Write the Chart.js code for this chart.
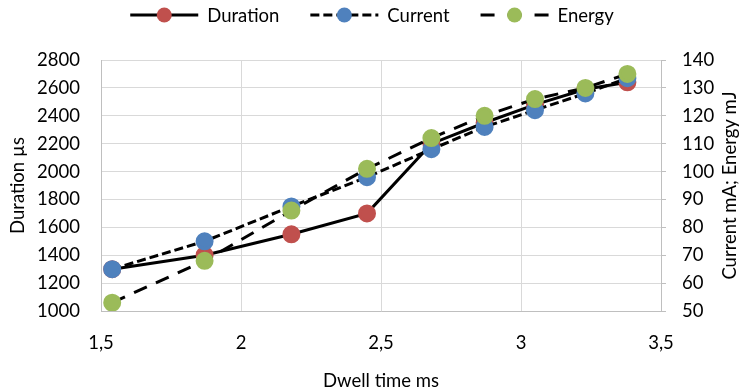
<!DOCTYPE html>
<html>
<head>
<meta charset="utf-8">
<script src="https://cdn.jsdelivr.net/npm/chart.js@4.4.0/dist/chart.umd.min.js"></script>
<style>
    html, body { margin: 0; padding: 0; background: #fff; }
    #wrap { width: 744px; height: 390px; }
</style>
</head>
<body>
<div id="wrap"><canvas id="lineChart"></canvas></div>
<script>
// values
const dwellTime = [1.54, 1.87, 2.18, 2.45, 2.68, 2.87, 3.05, 3.23, 3.38];
const duration = [1300, 1400, 1550, 1700, 2200, 2350, 2480, 2590, 2640];
const current = [65, 75, 87.5, 98, 108, 116, 122, 128, 133.5];
const energy = [53, 68, 86, 101, 112, 120, 126, 130, 135];

const xTicks = [1.5, 2, 2.5, 3, 3.5];
const xTickLabels = ['1,5', '2', '2,5', '3', '3,5'];
const leftTicks = [1000, 1200, 1400, 1600, 1800, 2000, 2200, 2400, 2600, 2800];
const rightTicks = [50, 60, 70, 80, 90, 100, 110, 120, 130, 140];

const FONT = 'Lato';
const FONT_SIZE = 18.5;
const GRID = '#d9d9d9';
const AXIS = '#bfbfbf';
const POINT_RADIUS = 7.5;

// legend dash patterns (drawn a bit differently from the plot lines)
const legendDash = [[], [9, 4], [14, 13]];

function points(ys) {
    return dwellTime.map((x, i) => ({ x: x, y: ys[i] }));
}

function setTicks(values) {
    return function (scale) {
        scale.ticks = values.map(v => ({ value: v }));
    };
}

// legend with line + marker samples, and the right axis title (reads bottom to top)
const extras = {
    id: 'extras',
    afterDraw(chart) {
        const ctx = chart.ctx;
        const sets = chart.data.datasets;
        const lineLen = 68, gapText = 9, gapItem = 31, y = 15;
        ctx.save();
        ctx.font = FONT_SIZE + 'px ' + FONT;
        const widths = sets.map(ds => lineLen + gapText + ctx.measureText(ds.label).width);
        const total = widths.reduce((a, b) => a + b, 0) + gapItem * (sets.length - 1);
        let x = (chart.width - total) / 2;
        sets.forEach((ds, i) => {
            ctx.strokeStyle = ds.borderColor;
            ctx.lineWidth = ds.borderWidth;
            ctx.setLineDash(legendDash[i]);
            ctx.beginPath();
            ctx.moveTo(x, y);
            ctx.lineTo(x + lineLen, y);
            ctx.stroke();
            ctx.setLineDash([]);
            ctx.fillStyle = ds.pointBackgroundColor;
            ctx.beginPath();
            ctx.arc(x + lineLen / 2, y, POINT_RADIUS, 0, Math.PI * 2);
            ctx.fill();
            ctx.fillStyle = '#000';
            ctx.textAlign = 'left';
            ctx.textBaseline = 'middle';
            ctx.fillText(ds.label, x + lineLen + gapText, y + 1);
            x += widths[i] + gapItem;
        });

        const area = chart.chartArea;
        ctx.translate(730, (area.top + area.bottom) / 2);
        ctx.rotate(-Math.PI / 2);
        ctx.textAlign = 'center';
        ctx.textBaseline = 'middle';
        ctx.fillText('Current mA; Energy mJ', 0, 0);
        ctx.restore();
    }
};

Chart.defaults.font.family = FONT;
Chart.defaults.font.size = FONT_SIZE;
Chart.defaults.color = '#000';

var lineChartCanvas = document.getElementById('lineChart').getContext('2d');
new Chart(lineChartCanvas, {
    type: 'line',
    data: {
        datasets: [{
            label: 'Duration',
            data: points(duration),
            yAxisID: 'y',
            borderColor: '#000',
            borderWidth: 3,
            pointBackgroundColor: '#c0504d',
            pointBorderColor: '#c0504d',
            order: 3
        }, {
            label: 'Current',
            data: points(current),
            yAxisID: 'y1',
            borderColor: '#000',
            borderWidth: 3,
            borderDash: [9, 4],
            pointBackgroundColor: '#4f81bd',
            pointBorderColor: '#4f81bd',
            order: 2
        }, {
            label: 'Energy',
            data: points(energy),
            yAxisID: 'y1',
            borderColor: '#000',
            borderWidth: 3,
            borderDash: [14, 10],
            pointBackgroundColor: '#9bbb59',
            pointBorderColor: '#9bbb59',
            order: 1
        }]
    },
    options: {
        responsive: true,
        maintainAspectRatio: false,
        animation: false,
        layout: { padding: { top: 60 } },
        elements: {
            line: { tension: 0, fill: false },
            point: { radius: POINT_RADIUS, hoverRadius: POINT_RADIUS, borderWidth: 0 }
        },
        scales: {
            x: {
                type: 'linear',
                min: xTicks[0],
                max: xTicks[xTicks.length - 1],
                afterBuildTicks: setTicks(xTicks),
                afterFit: function (scale) { scale.height = 79; },
                grid: { color: GRID, drawTicks: false },
                border: { color: AXIS },
                ticks: {
                    padding: 21,
                    maxRotation: 0,
                    callback: function (value, index) { return xTickLabels[index]; }
                },
                title: {
                    display: true,
                    text: 'Dwell time ms',
                    font: { lineHeight: 1 },
                    padding: 0
                }
            },
            y: {
                position: 'left',
                min: leftTicks[0],
                max: leftTicks[leftTicks.length - 1],
                afterBuildTicks: setTicks(leftTicks),
                afterFit: function (scale) { scale.width = 101; },
                grid: { color: GRID, drawTicks: false },
                border: { color: AXIS },
                ticks: {
                    padding: 21,
                    callback: function (value) { return String(value); }
                },
                title: {
                    display: true,
                    text: 'Duration µs',
                    padding: { top: 7, bottom: 0 }
                }
            },
            y1: {
                position: 'right',
                min: rightTicks[0],
                max: rightTicks[rightTicks.length - 1],
                afterBuildTicks: setTicks(rightTicks),
                afterFit: function (scale) { scale.width = 83; },
                grid: { color: AXIS, drawOnChartArea: false, drawTicks: true, tickLength: 5 },
                border: { color: AXIS },
                ticks: {
                    padding: 16,
                    callback: function (value) { return String(value); }
                }
            }
        },
        plugins: {
            legend: { display: false },
            tooltip: { enabled: false }
        }
    },
    plugins: [extras]
});
</script>
</body>
</html>
